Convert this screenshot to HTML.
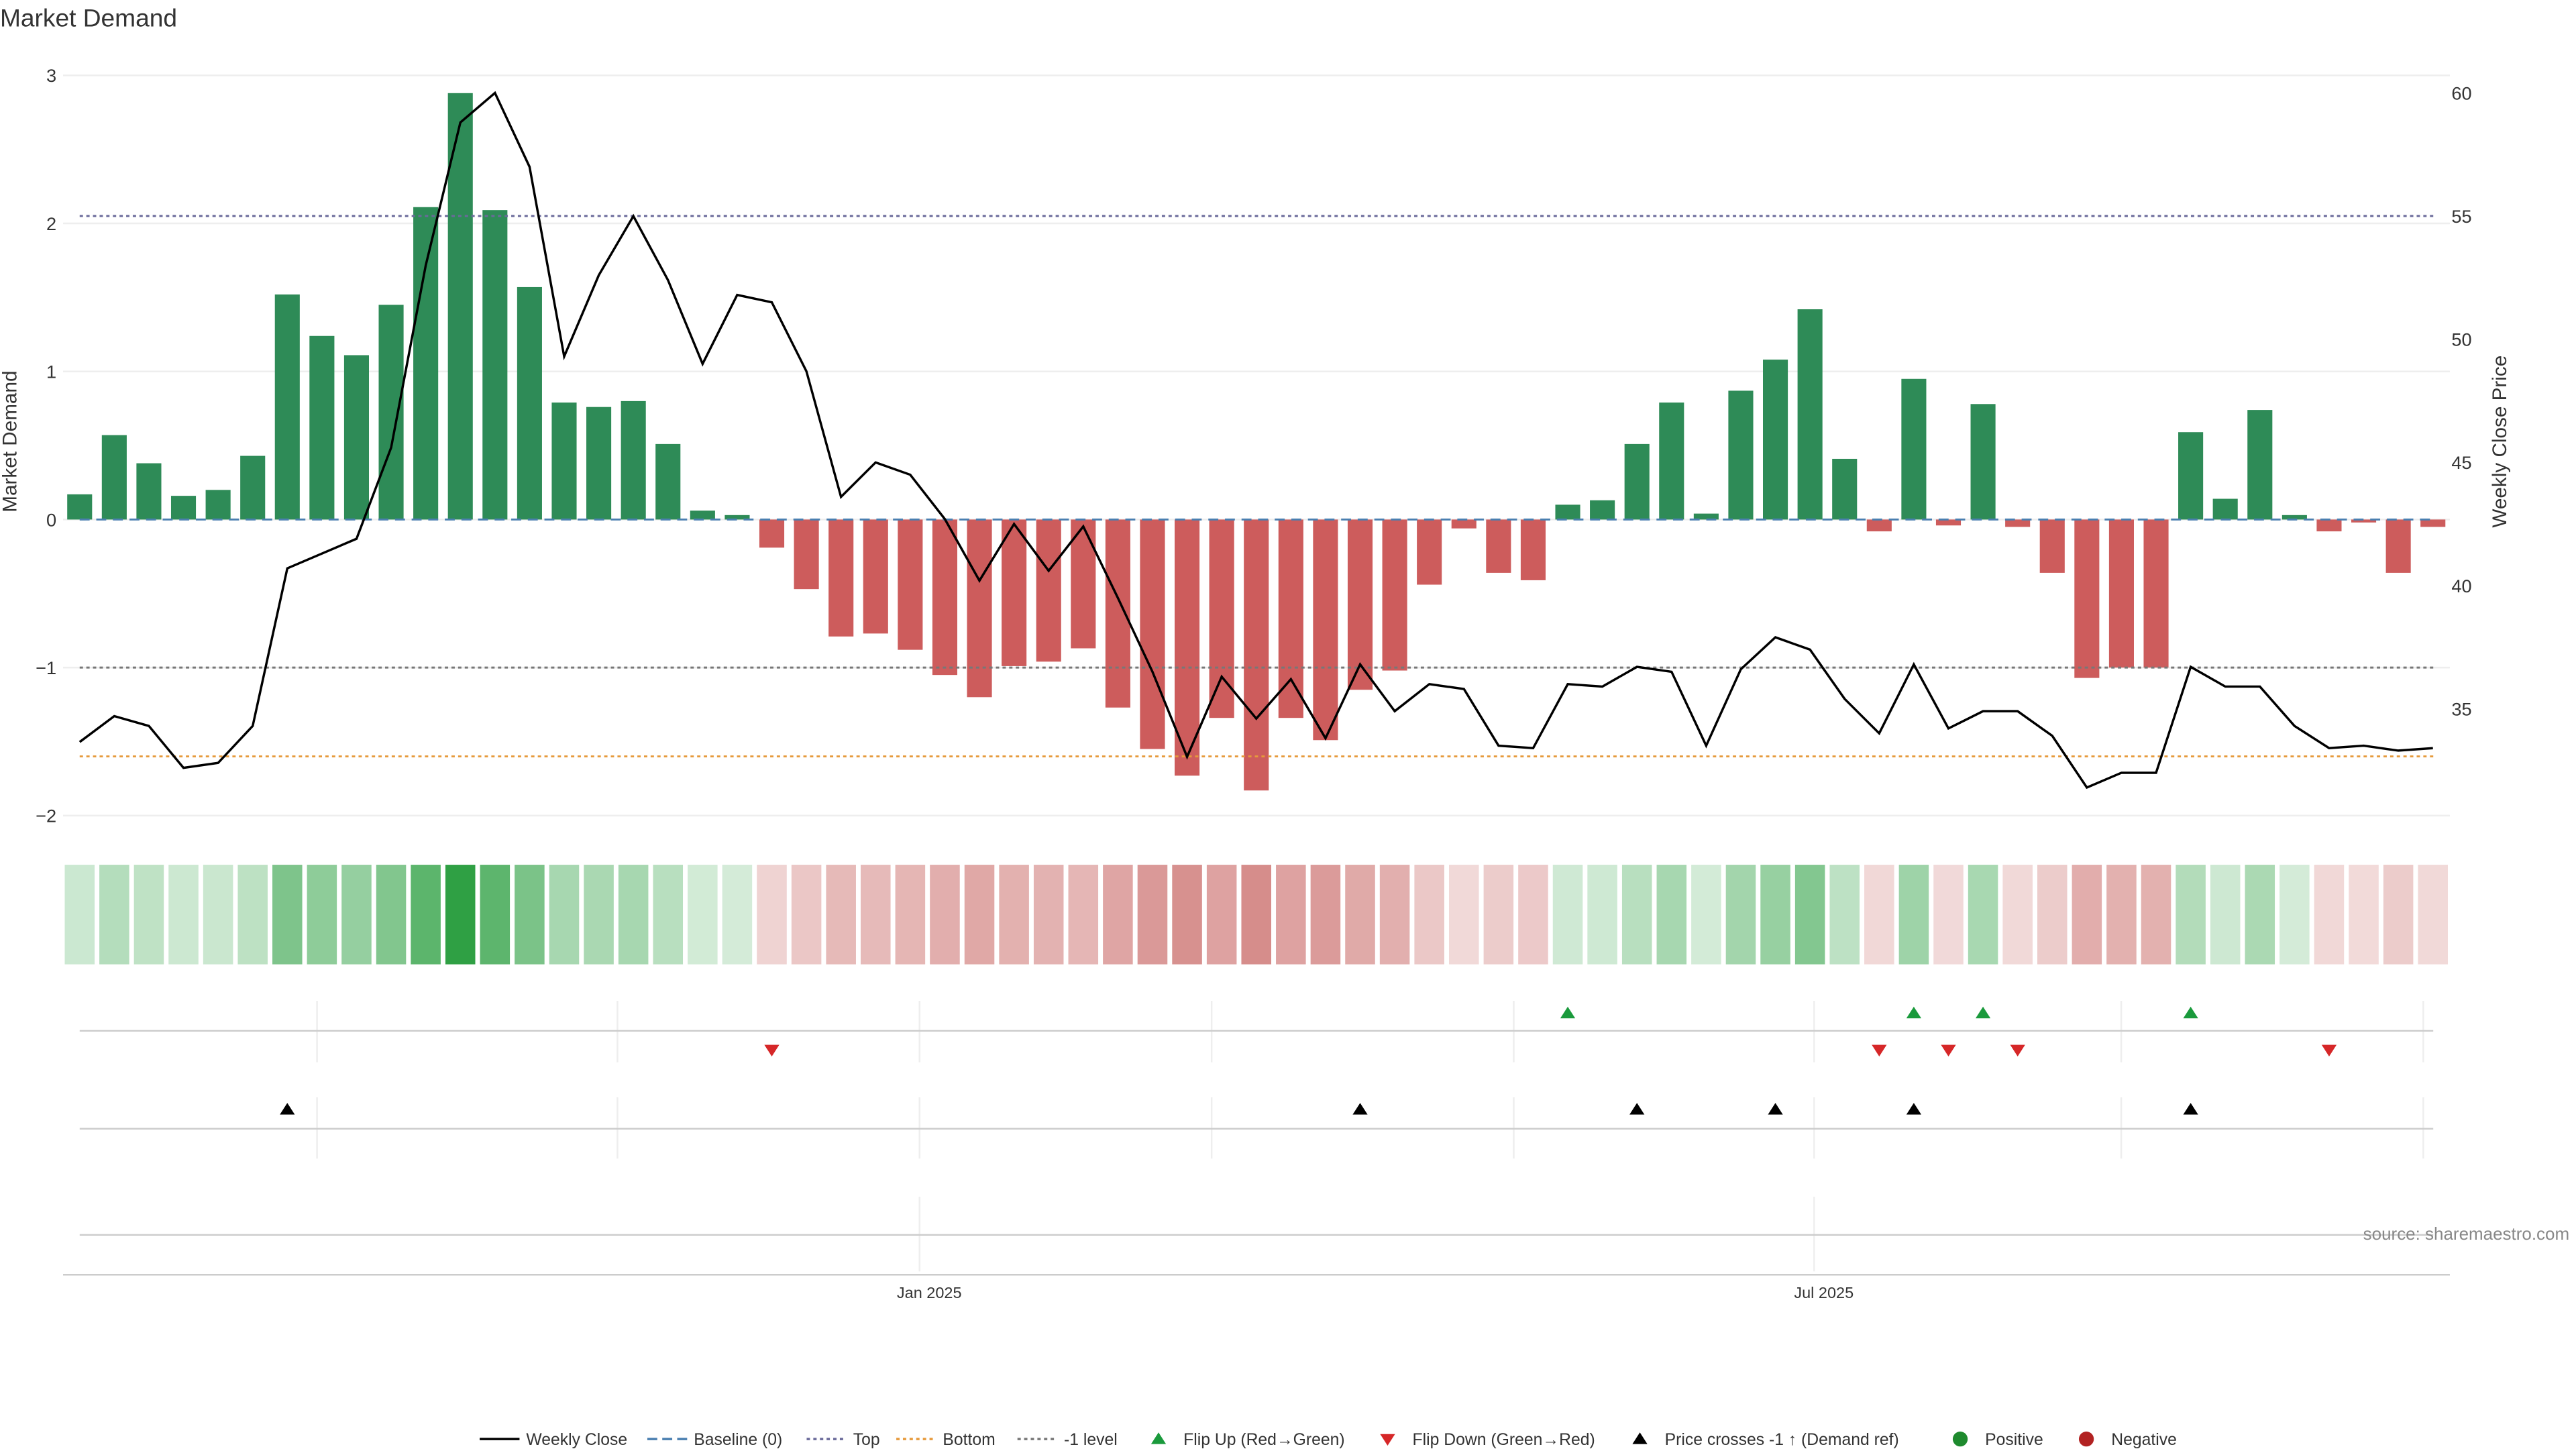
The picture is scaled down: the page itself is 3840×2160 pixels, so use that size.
<!DOCTYPE html>
<html><head><meta charset="utf-8"><style>
html,body{margin:0;padding:0;background:#fff;}
svg{display:block;font-family:"Liberation Sans",sans-serif;}
</style></head><body>
<svg id="chart" width="3840" height="2160" viewBox="0 0 1552 873" preserveAspectRatio="none" xmlns="http://www.w3.org/2000/svg">
<text x="0" y="16" font-size="15" fill="#333">Market Demand</text>
<g id="g"></g>
</svg>
<script>
const demand=[0.17,0.57,0.38,0.16,0.2,0.43,1.52,1.24,1.11,1.45,2.11,2.88,2.09,1.57,0.79,0.76,0.8,0.51,0.06,0.03,-0.19,-0.47,-0.79,-0.77,-0.88,-1.05,-1.2,-0.99,-0.96,-0.87,-1.27,-1.55,-1.73,-1.34,-1.83,-1.34,-1.49,-1.15,-1.02,-0.44,-0.06,-0.36,-0.41,0.1,0.13,0.51,0.79,0.04,0.87,1.08,1.42,0.41,-0.08,0.95,-0.04,0.78,-0.05,-0.36,-1.07,-1.0,-1.0,0.59,0.14,0.74,0.03,-0.08,-0.02,-0.36,-0.05];
const price=[33.65,34.7,34.3,32.6,32.8,34.3,40.7,41.3,41.9,45.6,53,58.8,60,57,49.3,52.6,55,52.4,49,51.8,51.5,48.7,43.6,45,44.5,42.7,40.2,42.5,40.6,42.4,39.5,36.5,33.05,36.3,34.6,36.2,33.8,36.8,34.9,36,35.8,33.5,33.4,36,35.9,36.7,36.5,33.5,36.6,37.9,37.4,35.4,34,36.8,34.2,34.9,34.9,33.9,31.8,32.4,32.4,36.7,35.9,35.9,34.3,33.4,33.5,33.3,33.4];
const flipUp=[43,53,55,61];
const flipDown=[20,52,54,56,65];
const priceCross=[6,37,45,49,53,61];
const leftTicks=[3,2,1,0,-1,-2];
const rightTicks=[60,55,50,45,40,35];
const refTop=2.05, refBottom=-1.6, refMinus1=-1;
const monthLabels=["Jan 2025","Jul 2025"];
const monthIdx=[24.55,50.4];

const NS="http://www.w3.org/2000/svg";
const g=document.getElementById('g');
function el(t,a,txt){const e=document.createElementNS(NS,t);for(const k in a)e.setAttribute(k,a[k]);if(txt!==undefined)e.textContent=txt;g.appendChild(e);return e;}
const x=i=>48+i*20.85;
const y=v=>313-v*89.2;
const yp=p=>427-(p-35)*14.84;
const X0=38,X1=1476;

leftTicks.forEach(t=>{
 const l=el('line',{x1:X0,x2:X1,y1:y(t),y2:y(t),stroke:'#eee','stroke-width':1});
 
 const tx=el('text',{x:34,y:y(t)+4,'font-size':11,'text-anchor':'end',fill:'#333'},t<0?'\u2212'+(-t):String(t));
 
});
rightTicks.forEach(t=>{
 const tx=el('text',{x:1477,y:yp(t)+4,'font-size':11,fill:'#333'},String(t));
 
});
let at=el('text',{x:10,y:266,'font-size':12,'text-anchor':'middle',fill:'#333',transform:'rotate(-90 10 266)'},'Market Demand');

at=el('text',{x:1510,y:266,'font-size':12,'text-anchor':'middle',fill:'#333',transform:'rotate(-90 1510 266)'},'Weekly Close Price');


demand.forEach((v,i)=>{
 const r=el('rect',{x:x(i)-7.5,width:15,y:Math.min(y(v),y(0)),height:Math.abs(y(v)-y(0)),fill:v>=0?'#2e8b57':'#cd5c5c'});
 
 const a=0.2+0.8*Math.min(Math.abs(v)/2.9,1);
 const c=el('rect',{x:x(i)-9,width:18,y:521,height:60,fill:v>=0?'#2ea043':'#c0504d','fill-opacity':v>=0?a:a*0.88+0.03});
 
});
[[refTop,'#6a6a9a','2,2','top-line'],[refMinus1,'#777','2,2','minus1-line'],[refBottom,'#e69a3c','2,2','bottom-line'],[0,'#4a7fb0','6,4','baseline']].forEach(r=>{
 const l=el('line',{x1:48,x2:1466,y1:y(r[0]),y2:y(r[0]),stroke:r[1],'stroke-width':1.2,'stroke-dasharray':r[2]});
 
});
const pl=el('polyline',{points:price.map((p,i)=>x(i)+','+yp(p)).join(' '),fill:'none',stroke:'#000','stroke-width':1.4});


[191,372,554,730,912,1093,1278,1460].forEach(vx=>{
 let l=el('line',{x1:vx,x2:vx,y1:603,y2:640,stroke:'#eee'});
 l=el('line',{x1:vx,x2:vx,y1:661,y2:698,stroke:'#eee'});
});
[554,1093].forEach(vx=>{let l=el('line',{x1:vx,x2:vx,y1:721,y2:766,stroke:'#eee'});});
[621,680,744].forEach(hy=>{let l=el('line',{x1:48,x2:1466,y1:hy,y2:hy,stroke:'#ccc'});});
let ax=el('line',{x1:X0,x2:X1,y1:768,y2:768,stroke:'#ccc'});
monthLabels.forEach((m,k)=>{const t=el('text',{x:x(monthIdx[k]),y:782,'font-size':9.5,'text-anchor':'middle',fill:'#333'},m);});
function tri(cx,cy,up,col,name){const p=up?`${cx-4.5},${cy+3.5} ${cx+4.5},${cy+3.5} ${cx},${cy-3.5}`:`${cx-4.5},${cy-3.5} ${cx+4.5},${cy-3.5} ${cx},${cy+3.5}`;const e=el('polygon',{points:p,fill:col});}
flipUp.forEach(i=>tri(x(i),610,true,'#1a9a3c','flip-up-marker'));
flipDown.forEach(i=>tri(x(i),633,false,'#d62728','flip-down-marker'));
priceCross.forEach(i=>tri(x(i),668,true,'#000','price-cross-marker'));
let s=el('text',{x:1548,y:747,'font-size':10.5,'text-anchor':'end',fill:'#888'},'source: sharemaestro.com');

const L=[['line','#000','','Weekly Close',289],['line','#4a7fb0','6,3','Baseline (0)',390],['line','#6a6a9a','2,2','Top',486],['line','#e69a3c','2,2','Bottom',540],['line','#777','2,2','-1 level',613],['up','#1a9a3c','','Flip Up (Red\u2192Green)',693],['down','#d62728','','Flip Down (Green\u2192Red)',831],['up','#000','','Price crosses -1 \u2191 (Demand ref)',983],['dot','#1e8a2e','','Positive',1176],['dot','#b22222','','Negative',1252]];
L.forEach(e=>{
 const cy=867;let m;
 if(e[0]==='line'){m=el('line',{x1:e[4],x2:e[4]+24,y1:cy,y2:cy,stroke:e[1],'stroke-width':1.4,'stroke-dasharray':e[2]});}
 else if(e[0]==='dot'){m=el('circle',{cx:e[4]+5,cy:cy,r:4.5,fill:e[1]});}
 else{const cx=e[4]+5;const up=e[0]==='up';m=el('polygon',{points:up?`${cx-4.5},${cy+3} ${cx+4.5},${cy+3} ${cx},${cy-4}`:`${cx-4.5},${cy-3} ${cx+4.5},${cy-3} ${cx},${cy+4}`,fill:e[1]});}
 
 const t=el('text',{x:e[4]+(e[0]==='line'?28:20),y:cy+3.5,'font-size':10,fill:'#333'},e[3]);
 
});
</script>
</body></html>
